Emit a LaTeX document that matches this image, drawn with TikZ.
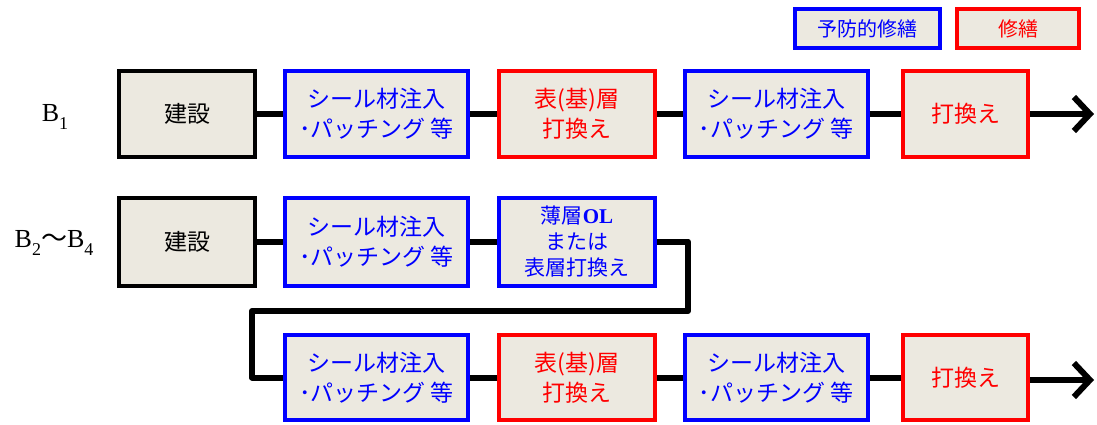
\documentclass[tikz,border=0pt]{standalone}
\usepackage{fontspec}
\setmainfont{Liberation Serif}
\newfontfamily\jp{Noto Sans CJK JP}
\usetikzlibrary{arrows.meta}
\definecolor{boxfill}{RGB}{236,233,224}
\definecolor{pblue}{RGB}{0,0,255}
\definecolor{pred}{RGB}{255,0,0}
\tikzset{
  base/.style={draw, line width=4pt, fill=boxfill, inner sep=0pt, align=center,
    font=\jp\fontsize{23}{30}\selectfont},
  blk/.style={base, draw=black, text=black},
  prev/.style={base, draw=pblue, text=pblue},
  rep/.style={base, draw=pred, text=pred},
  row1/.style={minimum height=86pt},
  row2/.style={minimum height=88pt},
  row3/.style={minimum height=85pt},
  wA/.style={minimum width=136pt},
  wB/.style={minimum width=183pt},
  wC/.style={minimum width=156pt},
  wD/.style={minimum width=125pt},
  conn/.style={line width=6pt, line join=round},
  flow/.style={conn, -{Straight Barb[length=16pt, width=34pt, line width=6pt]}},
  leg/.style={base, font=\jp\fontsize{20}{24}\selectfont, minimum height=39pt},
  lab/.style={font=\fontsize{26}{30}\selectfont, inner sep=0pt}
}
\newcommand{\sbs}[1]{\raisebox{-0.28em}{\fontsize{18}{18}\selectfont #1}}
\begin{document}
\begin{tikzpicture}[x=1pt, y=-1pt]
\useasboundingbox (0,0) rectangle (1097,424);
% legend
\node[prev, leg, minimum width=145pt] (L1) at (867.5,28.5) {予防的修繕};
\node[rep, leg, minimum width=122pt] (L2) at (1018,28.5) {修繕};
% labels
\node[lab] (B1) at (55,117) {B\sbs{1}};
\node[lab] (B2) at (54,243) {B\sbs{2}{\jp 〜}B\sbs{4}};
% row 1
\node[blk, row1, wA] (a1) at (187,114) {建設};
\node[prev, row1, wB] (a2) at (376.5,114) {シール材注入\\･パッチング 等};
\node[rep, row1, wC] (a3) at (577,114) {表(基)層\\打換え};
\node[prev, row1, wB] (a4) at (776,114) {シール材注入\\･パッチング 等};
\node[rep, row1, wD] (a5) at (965.5,114) {打換え};
\coordinate (e1) at (1094,114);
\draw[conn] (a1) -- (a2);
\draw[conn] (a2) -- (a3);
\draw[conn] (a3) -- (a4);
\draw[conn] (a4) -- (a5);
\draw[flow] (a5) -- (e1);
% row 2
\node[blk, row2, wA] (b1) at (187,241.5) {建設};
\node[prev, row2, wC, font=\jp\fontsize{21}{26}\selectfont] (b3) at (577,241.5) {薄層\textbf{\rmfamily OL}\\または\\表層打換え};
\node[prev, row2, wB] (b2) at (376.5,241.5) {シール材注入\\･パッチング 等};
\draw[conn] (b1) -- (b2);
\draw[conn] (b2) -- (b3);
% row 3
\node[prev, row3, wB] (c1) at (376.5,377.5) {シール材注入\\･パッチング 等};
\node[rep, row3, wC] (c2) at (577,377.5) {表(基)層\\打換え};
\node[prev, row3, wB] (c3) at (776,377.5) {シール材注入\\･パッチング 等};
\node[rep, row3, wD] (c4) at (965.5,377.5) {打換え};
\coordinate (t1) at (688,311);
\coordinate (t2) at (252,311);
\coordinate (e2) at (1094,380);
\draw[conn] (b3.east) -| (t1) -- (t2) |- (c1.west);
\draw[conn] (c1) -- (c2);
\draw[conn] (c2) -- (c3);
\draw[conn] (c3) -- (c4);
\draw[flow] (c4.east |- e2) -- (e2);
\end{tikzpicture}
\end{document}
